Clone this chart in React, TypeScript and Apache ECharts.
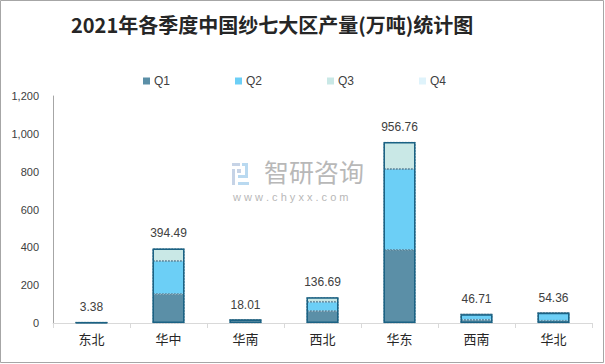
import React, { useEffect, useRef } from "react";
import * as echarts from "echarts";

const categories = ["东北", "华中", "华南", "西北", "华东", "西南", "华北"];
const q1 = [1.2, 153, 8.5, 63, 386, 17, 12];
const q2 = [2.18, 175, 9.51, 49, 428, 29.71, 42.36];
const q3 = [0, 66.49, 0, 24.69, 142.76, 0, 0];
const q4 = [0, 0, 0, 0, 0, 0, 0];
const totals = [3.38, 394.49, 18.01, 136.69, 956.76, 46.71, 54.36];
const seriesNames = ["Q1", "Q2", "Q3", "Q4"];
const yTicks = { min: 0, max: 1200, interval: 200 };

export default function App() {
  const ref = useRef<HTMLDivElement>(null);
  useEffect(() => {
    document.body.style.margin = "0";
    const chart = echarts.init(ref.current!, undefined, { renderer: "svg" });
    const colors = ["#5b8fa7", "#6ccff6", "#c9e8e6", "#dff3fb"];
    const seg = (name: string, data: number[], i: number) => ({
      name,
      type: "bar",
      stack: "total",
      barWidth: 32,
      data,
      itemStyle: {
        color: colors[i],
        borderColor: "#3b6a82",
        borderWidth: 0.7,
        borderType: [2, 1],
      },
    });
    chart.setOption({
      animation: false,
      title: {
        text: "2021年各季度中国纱七大区产量(万吨)统计图",
        left: 66,
        top: 9,
        textStyle: {
          fontFamily: "Noto Sans CJK SC",
          fontWeight: "bold",
          fontSize: 20,
          color: "#262626",
        },
      },
      legend: {
        data: seriesNames.map((n, i) => ({
          name: n,
          itemStyle: { color: colors[i], borderWidth: 0, borderColor: colors[i], borderType: "solid" },
        })),
        top: 70,
        left: 138,
        itemGap: 65,
        itemWidth: 7,
        itemHeight: 7,
        icon: "rect",
        itemStyle: { borderWidth: 0 },
        textStyle: { fontFamily: "Liberation Sans", fontSize: 12, color: "#404040", padding: [0, 0, 0, -1] },
      },
      grid: { left: 53, right: 13, top: 96, bottom: 41 },
      xAxis: {
        type: "category",
        data: categories,
        axisLine: { lineStyle: { color: "#d9d9d9" } },
        axisTick: { show: true, length: 5, lineStyle: { color: "#d9d9d9" } },
        axisLabel: { fontFamily: "Noto Sans CJK SC", fontSize: 13, color: "#262626", margin: 9 },
      },
      yAxis: {
        type: "value",
        min: yTicks.min,
        max: yTicks.max,
        interval: yTicks.interval,
        axisLine: { show: true, lineStyle: { color: "#a6a6a6" } },
        axisTick: { show: false },
        splitLine: { show: false },
        axisLabel: {
          fontFamily: "Liberation Sans",
          fontSize: 11,
          color: "#404040",
          margin: 14,
          formatter: (v: number) => v.toLocaleString("en-US"),
        },
      },
      graphic: [
        {
          type: "rect",
          shape: { x: 0.5, y: 0.5, width: 603, height: 362 },
          style: { fill: "none", stroke: "#a6a6a6", lineWidth: 1 },
          silent: true,
        },
        {
          type: "group",
          left: 232,
          top: 163,
          silent: true,
          children: [
            { type: "rect", shape: { x: 0, y: 0, width: 8, height: 3 }, style: { fill: "#c6d3e6" } },
            { type: "rect", shape: { x: 0, y: 6, width: 3, height: 16 }, style: { fill: "#c6d3e6" } },
            { type: "rect", shape: { x: 5, y: 6, width: 4, height: 4 }, style: { fill: "#c6d3e6" } },
            { type: "rect", shape: { x: 10, y: 0, width: 6, height: 3 }, style: { fill: "#b9d9f0" } },
            { type: "rect", shape: { x: 13, y: 3, width: 3, height: 9 }, style: { fill: "#b9d9f0" } },
            { type: "rect", shape: { x: 6, y: 12, width: 10, height: 3 }, style: { fill: "#b9d9f0" } },
            { type: "rect", shape: { x: 6, y: 19, width: 11, height: 3 }, style: { fill: "#b9d9f0" } },
          ],
        },
        {
          type: "text",
          left: 264,
          top: 158,
          silent: true,
          style: {
            text: "智研咨询",
            fontFamily: "Noto Sans CJK SC",
            fontSize: 25,
            fill: "#b8b8b8",
          },
        },
        {
          type: "text",
          left: 233,
          top: 191,
          silent: true,
          style: {
            text: "w w w . c h y x x . c o m",
            fontFamily: "Liberation Sans",
            fontSize: 11,
            fill: "#b8b8b8",
          },
        },
      ],
      series: [
        seg("Q1", q1, 0),
        seg("Q2", q2, 1),
        seg("Q3", q3, 2),
        { ...seg("Q4", q4, 3), itemStyle: { color: colors[3], borderWidth: 0 } },
        {
          name: "total",
          type: "bar",
          barWidth: 32,
          barGap: "-100%",
          data: totals,
          itemStyle: { color: "rgba(0,0,0,0)", borderColor: "#1b6284", borderWidth: 1.5 },
          label: {
            show: true,
            position: "top",
            distance: 9,
            fontFamily: "Liberation Sans",
            fontSize: 12,
            color: "#404040",
          },
          z: 5,
        },
      ],
    });
    return () => chart.dispose();
  }, []);
  return <div ref={ref} style={{ width: 605, height: 364 }} />;
}
